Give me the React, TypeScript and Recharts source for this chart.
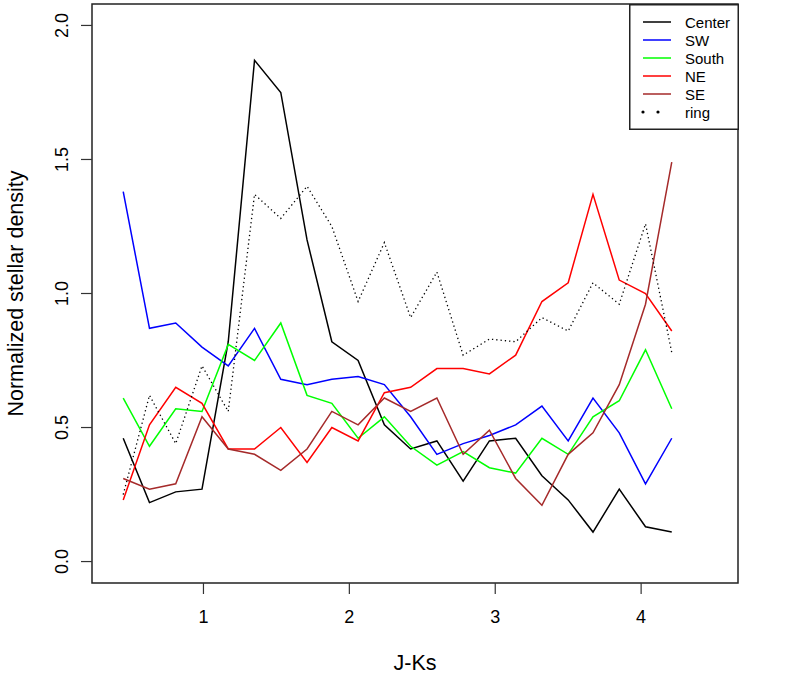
import React from "react";
import {
  LineChart,
  Line,
  XAxis,
  YAxis,
  Legend,
  ReferenceArea,
} from "recharts";

// J-Ks colour bins (bin centres)
const jk = [
  0.45, 0.63, 0.81, 0.99, 1.17, 1.35, 1.53, 1.71, 1.88, 2.06, 2.24, 2.42,
  2.6, 2.78, 2.96, 3.14, 3.32, 3.5, 3.67, 3.85, 4.03, 4.21,
];

const center = [
  0.46, 0.22, 0.26, 0.27, 0.82, 1.87, 1.75, 1.2, 0.82, 0.75, 0.51, 0.42,
  0.45, 0.3, 0.45, 0.46, 0.32, 0.23, 0.11, 0.27, 0.13, 0.11,
];
const sw = [
  1.38, 0.87, 0.89, 0.8, 0.73, 0.87, 0.68, 0.66, 0.68, 0.69, 0.66, 0.54,
  0.4, 0.44, 0.47, 0.51, 0.58, 0.45, 0.61, 0.48, 0.29, 0.46,
];
const south = [
  0.61, 0.43, 0.57, 0.56, 0.81, 0.75, 0.89, 0.62, 0.59, 0.46, 0.54, 0.43,
  0.36, 0.41, 0.35, 0.33, 0.46, 0.4, 0.54, 0.6, 0.79, 0.57,
];
const ne = [
  0.23, 0.51, 0.65, 0.59, 0.42, 0.42, 0.5, 0.37, 0.5, 0.45, 0.63, 0.65,
  0.72, 0.72, 0.7, 0.77, 0.97, 1.04, 1.37, 1.05, 1.0, 0.86,
];
const se = [
  0.31, 0.27, 0.29, 0.54, 0.42, 0.4, 0.34, 0.42, 0.56, 0.51, 0.61, 0.56,
  0.61, 0.4, 0.49, 0.31, 0.21, 0.4, 0.48, 0.66, 0.96, 1.49,
];
const ring = [
  0.25, 0.62, 0.44, 0.73, 0.56, 1.37, 1.28, 1.4, 1.25, 0.97, 1.19, 0.91,
  1.08, 0.77, 0.83, 0.82, 0.91, 0.86, 1.04, 0.96, 1.26, 0.78,
];

const seriesNames = ["Center", "SW", "South", "NE", "SE", "ring"];
const xTicks = [1, 2, 3, 4];
const yTicks = [0, 0.5, 1, 1.5, 2];

// R-style 4% padding around xlim = c(0.4, 4.5), ylim = c(0, 2)
const xDomain = [0.236, 4.664];
const yDomain = [-0.08, 2.08];

const data = jk.map((x, i) => ({
  x,
  center: center[i],
  sw: sw[i],
  south: south[i],
  ne: ne[i],
  se: se[i],
  ring: ring[i],
}));

const FONT = '"Liberation Sans", Arial, Helvetica, sans-serif';
const axisTxt = { fontFamily: FONT, fontSize: 18, fill: "#000" };
const titleTxt = { fontFamily: FONT, fontSize: 21.5, fill: "#000" };
const legendTxt = { fontFamily: FONT, fontSize: 15, fill: "#000" };

const XTick = ({ x, y, payload }: any) => (
  <text x={x} y={y + 21} textAnchor="middle" dominantBaseline="central" {...axisTxt}>
    {payload.value}
  </text>
);

const YTick = ({ x, y, payload }: any) => (
  <text
    x={x - 17}
    y={y}
    transform={`rotate(-90, ${x - 17}, ${y})`}
    textAnchor="middle"
    dominantBaseline="central"
    {...axisTxt}
  >
    {Number(payload.value).toFixed(1)}
  </text>
);

const LegendBox = ({ payload }: any) => {
  const items = [...(payload || [])].sort(
    (a: any, b: any) => seriesNames.indexOf(a.value) - seriesNames.indexOf(b.value)
  );
  return (
    <svg width={110} height={126} style={{ display: "block" }}>
      <rect x={0.75} y={0.75} width={108.5} height={124.5} fill="#fff" stroke="#222" strokeWidth={1.5} />
      {items.map((p: any, i: number) => {
        const cy = 18 + i * 18;
        return (
          <g key={p.value}>
            {p.dataKey === "ring" ? (
              <>
                <circle cx={14} cy={cy} r={1.6} fill="#000" />
                <circle cx={29} cy={cy} r={1.6} fill="#000" />
              </>
            ) : (
              <line x1={14} x2={42} y1={cy} y2={cy} stroke={p.color} strokeWidth={1.5} />
            )}
            <text x={56} y={cy} dominantBaseline="central" {...legendTxt}>
              {p.value}
            </text>
          </g>
        );
      })}
    </svg>
  );
};

export default function App() {
  return (
    <div style={{ position: "absolute", left: 0, top: 0 }}>
      <LineChart
        width={785}
        height={675}
        data={data}
        margin={{ top: 4, right: 47, left: 32, bottom: 32 }}
      >
        <XAxis
          type="number"
          dataKey="x"
          domain={xDomain}
          ticks={xTicks}
          allowDataOverflow
          axisLine={false}
          tickSize={11}
          tickLine={{ stroke: "#333", strokeWidth: 1.2 }}
          tick={<XTick />}
          height={60}
          label={{
            value: "J-Ks",
            content: ({ viewBox }: any) => (
              <text
                x={viewBox.x + viewBox.width / 2}
                y={viewBox.y + 80}
                textAnchor="middle"
                dominantBaseline="central"
                {...titleTxt}
              >
                J-Ks
              </text>
            ),
          }}
        />
        <YAxis
          type="number"
          domain={yDomain}
          ticks={yTicks}
          allowDataOverflow
          axisLine={false}
          tickSize={11}
          tickLine={{ stroke: "#333", strokeWidth: 1.2 }}
          tick={<YTick />}
          width={60}
          label={{
            value: "Normalized stellar density",
            content: ({ viewBox }: any) => {
              const cx = viewBox.x + viewBox.width - 76;
              const cy = viewBox.y + viewBox.height / 2;
              return (
                <text
                  x={cx}
                  y={cy}
                  transform={`rotate(-90, ${cx}, ${cy})`}
                  textAnchor="middle"
                  dominantBaseline="central"
                  {...titleTxt}
                >
                  Normalized stellar density
                </text>
              );
            },
          }}
        />
        <ReferenceArea
          x1={xDomain[0]}
          x2={xDomain[1]}
          y1={yDomain[0]}
          y2={yDomain[1]}
          fill="none"
          stroke="#222"
          strokeWidth={1.5}
          ifOverflow="visible"
        />
        <Line type="linear" dataKey="center" name="Center" stroke="#000000" strokeWidth={1.5} dot={false} activeDot={false} isAnimationActive={false} />
        <Line type="linear" dataKey="sw" name="SW" stroke="#0000ff" strokeWidth={1.5} dot={false} activeDot={false} isAnimationActive={false} />
        <Line type="linear" dataKey="south" name="South" stroke="#00ff00" strokeWidth={1.5} dot={false} activeDot={false} isAnimationActive={false} />
        <Line type="linear" dataKey="ne" name="NE" stroke="#ff0000" strokeWidth={1.5} dot={false} activeDot={false} isAnimationActive={false} />
        <Line type="linear" dataKey="se" name="SE" stroke="#a52a2a" strokeWidth={1.5} dot={false} activeDot={false} isAnimationActive={false} />
        <Line type="linear" dataKey="ring" name="ring" stroke="#000000" strokeWidth={1.3} strokeDasharray="1.3 3" dot={false} activeDot={false} isAnimationActive={false} />
        <Legend
          layout="vertical"
          align="center"
          verticalAlign="middle"
          content={<LegendBox />}
          wrapperStyle={{ position: "absolute", left: 629, top: 4, width: 110, height: 126 }}
        />
      </LineChart>
    </div>
  );
}
